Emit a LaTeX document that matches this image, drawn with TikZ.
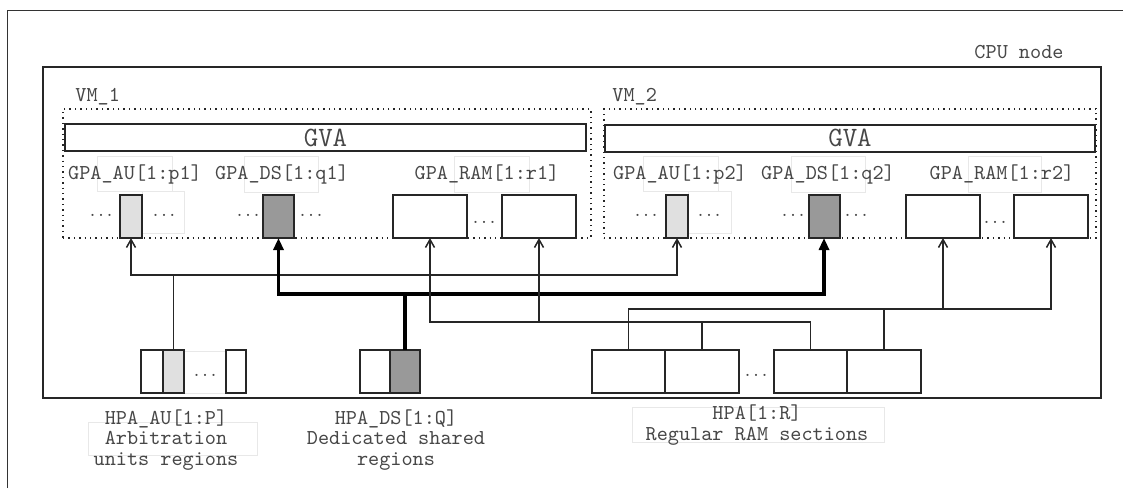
\documentclass[tikz,border=0pt]{standalone}
\usepackage{fontspec}
\usetikzlibrary{arrows.meta, positioning}

\begin{document}
\begin{tikzpicture}[x=0.5pt, y=-0.5pt, >={Straight Barb[length=4pt, width=4.5pt]},
    font=\ttfamily\fontsize{10.6}{10.4}\selectfont, text=black!72]
    \tikzstyle{box}=[draw=black!85, line width=1pt, inner sep=0pt, outer sep=0pt, minimum height=21.5pt]
    \tikzstyle{au}=[box, fill=black!12, minimum width=11pt]
    \tikzstyle{ds}=[box, fill=black!40, minimum width=15.5pt]
    \tikzstyle{ram}=[box, minimum width=37pt]
    \tikzstyle{gva}=[box, minimum height=13.5pt, font=\ttfamily\fontsize{14}{16}\selectfont]
    \tikzstyle{vm}=[draw=black!85, dotted, line width=0.7pt, inner sep=0pt]
    \tikzstyle{dots}=[inner sep=0pt, font=\ttfamily\fontsize{8}{9}\selectfont]
    \tikzstyle{ghost}=[draw=black!9, line width=0.4pt]
    \tikzstyle{link}=[draw=black!85, line width=0.75pt]
    \tikzstyle{fat}=[draw=black, line width=1.7pt, -{Triangle[length=6pt, width=5pt]}]

    \useasboundingbox (0,0) rectangle (1123,488);
    \draw[black!80, line width=0.5pt] (7,488) -- (7,10) -- (1123,10);

    \draw[ghost] (97,156) rectangle (172,191) (142,191) rectangle (184,233);
    \draw[ghost] (244,156) rectangle (318,192);
    \draw[ghost] (454,156) rectangle (529,192);
    \draw[ghost] (643,156) rectangle (718,191) (688,191) rectangle (731,233);
    \draw[ghost] (791,156) rectangle (865,192);
    \draw[ghost] (968,156) rectangle (1041,192);
    \draw[ghost] (184,351) rectangle (226,393);
    \draw[ghost] (88,422) rectangle (257,455);
    \draw[ghost] (632,407) rectangle (884,442);

    \node[draw=black!85, line width=0.8pt, minimum width=529pt, minimum height=165.5pt] (cpu) at (572,232.5) {};
    \node (cpulbl) at (1019,52) {CPU node};

    \node[vm, minimum width=264pt, minimum height=64.5pt] (vm1) at (327,173.5) {};
    \node[vm, minimum width=246pt, minimum height=64.5pt] (vm2) at (850,173.5) {};
    \node[anchor=west, inner sep=0pt] (vm1lbl) at (75,97) {VM\_1};
    \node[anchor=west, inner sep=0pt] (vm2lbl) at (612,97) {VM\_2};

    \node[gva, minimum width=260.5pt] (gva1) at (325.5,137.5) {GVA};
    \node[gva, minimum width=245pt] (gva2) at (850,138) {GVA};

    \node (gau1) at (135,174) {GPA\_AU[1:p1]};
    \node (gds1) at (282,174) {GPA\_DS[1:q1]};
    \node (gram1) at (487,174) {GPA\_RAM[1:r1]};
    \node (gau2) at (680,174) {GPA\_AU[1:p2]};
    \node (gds2) at (828,174) {GPA\_DS[1:q2]};
    \node (gram2) at (1002,174) {GPA\_RAM[1:r2]};

    \node[au] (au1) at (131,216.5) {};
    \node[ds] (ds1) at (278.5,216.5) {};
    \node[ram] (ram1a) at (430,216.5) {};
    \node[ram, right=17.5pt of ram1a] (ram1b) {};
    \node[au] (au2) at (677,216.5) {};
    \node[ds] (ds2) at (824,216.5) {};
    \node[ram] (ram2a) at (943,216.5) {};
    \node[ram, right=17pt of ram2a] (ram2b) {};

    \node[dots] at (101,215) {...};
    \node[dots] at (164,215) {...};
    \node[dots] at (248,215) {...};
    \node[dots] at (311,215) {...};
    \node[dots] at (484,222) {...};
    \node[dots] at (646,215) {...};
    \node[dots] at (709,215) {...};
    \node[dots] at (793,215) {...};
    \node[dots] at (856,215) {...};
    \node[dots] at (995,222) {...};

    \node[box, minimum width=11pt] (hau1) at (152,371.5) {};
    \node[au, minimum width=10.5pt, right=0pt of hau1] (hau2) {};
    \node[box, minimum width=10pt, right=21pt of hau2] (hau3) {};
    \node[dots] at (205,375) {...};
    \node[box, minimum width=15pt] (hds1) at (375,371.5) {};
    \node[ds, minimum width=15pt, right=0pt of hds1] (hds2) {};
    \node[ram, minimum width=36.5pt] (hram1) at (628.5,371.5) {};
    \node[ram, right=0pt of hram1] (hram2) {};
    \node[ram, minimum width=36.5pt, right=17.5pt of hram2] (hram3) {};
    \node[ram, right=0pt of hram3] (hram4) {};
    \node[dots] at (756,375) {...};

    \node[align=center] (hau) at (166,440) {HPA\_AU[1:P]\\Arbitration\\units regions};
    \node[align=center] (hds) at (396,440) {HPA\_DS[1:Q]\\Dedicated shared\\regions};
    \node[align=center] (hram) at (757,425) {HPA[1:R]\\Regular RAM sections};

    \coordinate (aubus) at (0,275);
    \coordinate (dsbus) at (0,294);
    \coordinate (rbus2) at (0,309);
    \coordinate (rbus1) at (0,322);

    \draw[link, ->] (hau2.north) -- (hau2.north |- aubus) -| (au1.south);
    \draw[link, ->] (hau2.north |- aubus) -| (au2.south);
    \draw[fat] (hds2.north) -- (hds2.north |- dsbus) -| (ds1.south);
    \draw[fat] (hds2.north |- dsbus) -| (ds2.south);
    \draw[link, ->] (hram2.north) -- (hram2.north |- rbus1) -| (ram1a.south);
    \draw[link] (hram3.north) |- (hram2.north |- rbus1);
    \draw[link, ->] (ram1b.south |- rbus1) -- (ram1b.south);
    \draw[link, ->] (hram1.north) -- (hram1.north |- rbus2) -| (ram2b.south);
    \draw[link] (hram4.north) -- (hram4.north |- rbus2);
    \draw[link, ->] (ram2a.south |- rbus2) -- (ram2a.south);
\end{tikzpicture}
\end{document}
